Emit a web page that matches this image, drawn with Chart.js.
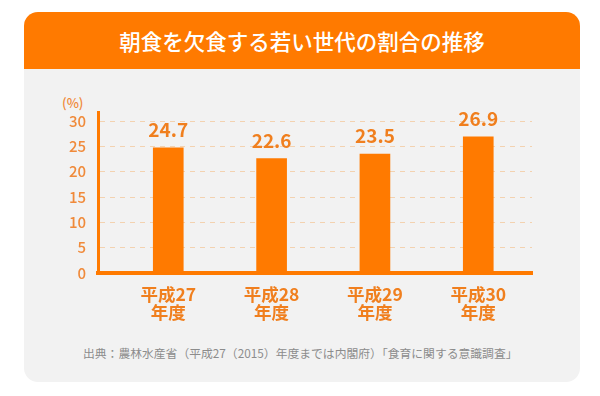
<!DOCTYPE html>
<html lang="ja">
<head>
<meta charset="utf-8">
<script src="https://cdn.jsdelivr.net/npm/chart.js@4"></script>
<style>
  html, body { margin: 0; padding: 0; background: #fff; }
  body { width: 600px; height: 396px; position: relative; overflow: hidden;
         font-family: "Noto Sans CJK JP", "Noto Sans", sans-serif; }
  #head { position: absolute; left: 24px; top: 12px; width: 556px; height: 57px;
          background: #ff7a00; border-radius: 14px 14px 0 0;
          color: #fff; font-size: 21.5px; font-weight: 500; text-align: center; line-height: 57px; }
  #card { position: absolute; left: 24px; top: 69px; width: 556px; height: 313px;
          background: #f2f2f2; border-radius: 0 0 14px 14px; }
  #unit { position: absolute; left: 62px; top: 93px; font-size: 13px; color: #f08a3a; font-weight: 500; }
  #src { position: absolute; left: 83px; top: 344px; font-size: 11.8px; color: #8c8c8c; white-space: nowrap; }
  #wrap { position: absolute; left: 0; top: 0; width: 600px; height: 396px; }
</style>
</head>
<body>
<div id="head">朝食を欠食する若い世代の割合の推移</div>
<div id="card"></div>
<div id="unit">(%)</div>
<div id="src">出典：農林水産省（平成27（2015）年度までは内閣府）「食育に関する意識調査」</div>
<div id="wrap"><canvas id="chart"></canvas></div>
<script>
// ===== Data =====
const categories = ["平成27", "平成28", "平成29", "平成30"];
const values = [24.7, 22.6, 23.5, 26.9];
const yTicks = [0, 5, 10, 15, 20, 25, 30];

const orange = "#ff7a00";

// ===== Value labels above the bars =====
const valueLabels = {
    id: "valueLabels",
    afterDatasetsDraw(chart) {
        const ctx = chart.ctx;
        const meta = chart.getDatasetMeta(0);
        ctx.save();
        ctx.fillStyle = "#f07f1e";
        ctx.font = "bold 19px 'Noto Sans CJK JP', sans-serif";
        ctx.textAlign = "center";
        ctx.textBaseline = "alphabetic";
        meta.data.forEach((bar, i) => {
            ctx.fillText(values[i].toFixed(1), bar.x, bar.y - 11);
        });
        ctx.restore();
    }
};

new Chart(document.getElementById("chart"), {
    type: "bar",
    data: {
        datasets: [{
            data: values.map((v, i) => ({ x: i, y: v })),
            backgroundColor: orange,
            barThickness: 30
        }]
    },
    options: {
        responsive: true,
        maintainAspectRatio: false,
        animation: false,
        layout: { padding: { left: 58, right: 68, top: 112, bottom: 63 } },
        plugins: { legend: { display: false }, tooltip: { enabled: false } },
        scales: {
            x: {
                type: "linear",
                offset: false,
                min: -0.68,
                max: 3.52,
                afterBuildTicks: (scale) => { scale.ticks = categories.map((c, i) => ({ value: i })); },
                afterFit: (scale) => { scale.height = 60; },
                grid: { display: false },
                border: { color: orange, width: 4 },
                ticks: {
                    padding: 4,
                    color: "#f07f1e",
                    font: { family: "'Noto Sans CJK JP', sans-serif", size: 17.5, weight: "bold", lineHeight: 1.05 },
                    callback: (v) => [categories[v], "年度"]
                }
            },
            y: {
                min: 0,
                max: 31.8,
                afterBuildTicks: (scale) => { scale.ticks = yTicks.map(v => ({ value: v })); },
                afterFit: (scale) => { scale.width = 40; },
                grid: { color: "#f3d2b0", lineWidth: 1, drawTicks: false },
                border: { color: orange, width: 3, dash: [5, 5] },
                ticks: {
                    padding: 12,
                    color: "#f08a3a",
                    font: { family: "'Noto Sans CJK JP', sans-serif", size: 15, weight: "500" }
                }
            }
        }
    },
    plugins: [valueLabels]
});
</script>
</body>
</html>
